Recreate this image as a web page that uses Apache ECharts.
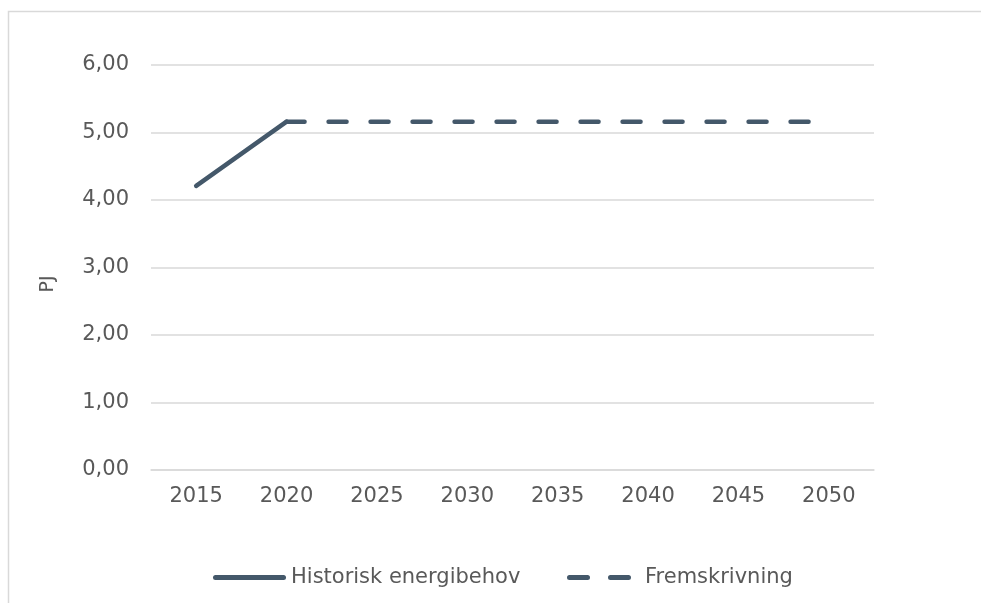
<!DOCTYPE html>
<html>
<head>
<meta charset="utf-8">
<script src="https://cdn.jsdelivr.net/npm/echarts@6/dist/echarts.min.js"></script>
<style>
  html, body { margin: 0; padding: 0; background: #ffffff; }
  #chart { width: 981px; height: 603px; }
</style>
</head>
<body>
<div id="chart"></div>
<script>
const categories = ['2015', '2020', '2025', '2030', '2035', '2040', '2045', '2050'];
const historical = [4.21, 5.16, null, null, null, null, null, null];
const projection = [null, 5.16, 5.16, 5.16, 5.16, 5.16, 5.16, 5.16];
const yTicks = { min: 0, max: 6, interval: 1 };
const yAxisName = 'PJ';

const FONT = '"DejaVu Sans", Verdana, sans-serif';
const TEXT = '#595959';
const LINE = '#44586a';

const solidIcon = 'path://M2.5,0H70.5A2.5,2.5 0 0 1 70.5,5H2.5A2.5,2.5 0 0 1 2.5,0Z';
const dashIcon = 'path://M2.5,0H20.5A2.5,2.5 0 0 1 20.5,5H2.5A2.5,2.5 0 0 1 2.5,0Z M43.5,0H61.5A2.5,2.5 0 0 1 61.5,5H43.5A2.5,2.5 0 0 1 43.5,0Z';

const chart = echarts.init(document.getElementById('chart'));
chart.setOption({
  animation: false,
  backgroundColor: '#ffffff',
  textStyle: { fontFamily: FONT },
  graphic: [
    {
      type: 'rect',
      shape: { x: 8.5, y: 11.5, width: 1000, height: 700 },
      style: { fill: 'none', stroke: '#d9d9d9', lineWidth: 1.5 },
      silent: true
    },
    {
      type: 'text',
      x: 48, y: 284,
      rotation: Math.PI / 2,
      style: {
        text: yAxisName, fontFamily: FONT, fontSize: 19, fill: TEXT,
        align: 'center', verticalAlign: 'middle'
      },
      silent: true
    }
  ],
  grid: { left: 151, right: 107, top: 65, bottom: 133, containLabel: false },
  legend: [
    {
      left: 213,
      top: 567,
      padding: 0,
      itemWidth: 73,
      itemHeight: 5,
      textStyle: { fontFamily: FONT, fontSize: 21, color: TEXT, padding: [0, 0, 0, 0] },
      data: [{ name: 'Historisk energibehov', icon: solidIcon }]
    },
    {
      left: 567,
      top: 567,
      padding: 0,
      itemWidth: 64,
      itemHeight: 5,
      textStyle: { fontFamily: FONT, fontSize: 21, color: TEXT, padding: [0, 0, 0, 9] },
      data: [{ name: 'Fremskrivning', icon: dashIcon }]
    }
  ],
  xAxis: {
    type: 'category',
    data: categories,
    boundaryGap: true,
    axisLine: { show: true, lineStyle: { color: '#d9d9d9', width: 1.5 } },
    axisTick: { show: false },
    axisLabel: { fontFamily: FONT, fontSize: 21, color: TEXT, margin: 16 }
  },
  yAxis: {
    type: 'value',
    min: yTicks.min, max: yTicks.max, interval: yTicks.interval,
    axisLine: { show: false },
    axisTick: { show: false },
    splitLine: { lineStyle: { color: '#d9d9d9', width: 1.5 } },
    axisLabel: {
      fontFamily: FONT, fontSize: 21, color: TEXT, margin: 22,
      formatter: v => v.toFixed(2).replace('.', ',')
    }
  },
  series: [
    {
      name: 'Historisk energibehov',
      type: 'line',
      data: historical,
      symbol: 'none',
      lineStyle: { color: LINE, width: 4.5, cap: 'round', join: 'round' },
      itemStyle: { color: LINE }
    },
    {
      name: 'Fremskrivning',
      type: 'line',
      data: projection,
      symbol: 'none',
      lineStyle: { color: LINE, width: 4.5, type: [18, 24], cap: 'round', join: 'round' },
      itemStyle: { color: LINE }
    }
  ]
});
</script>
</body>
</html>
